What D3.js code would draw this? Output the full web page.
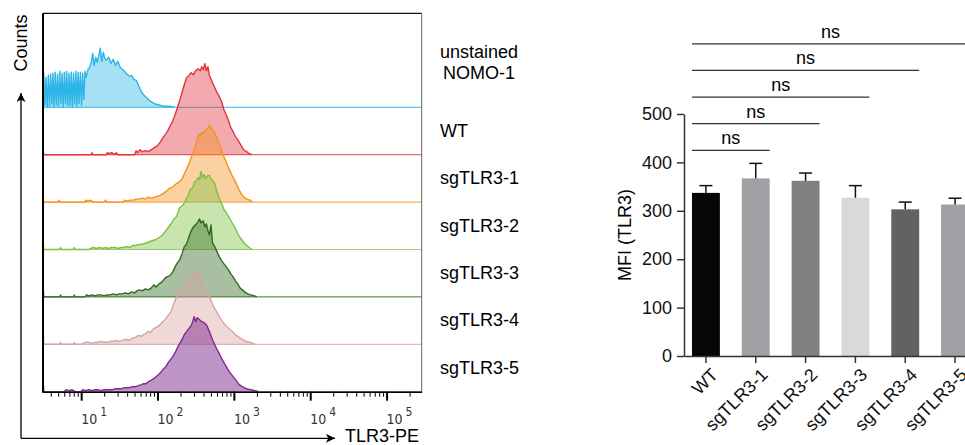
<!DOCTYPE html>
<html>
<head>
<meta charset="utf-8">
<script src="https://cdnjs.cloudflare.com/ajax/libs/d3/7.8.5/d3.min.js"></script>
<style>
  body { margin: 0; background: #fff; }
  svg { display: block; font-family: "Liberation Sans", Arial, sans-serif; }
</style>
</head>
<body>
<div id="chart"></div>
<script>
// histogram rows, top to bottom
var rowNames = ['unstained NOMO-1', 'WT', 'sgTLR3-1', 'sgTLR3-2', 'sgTLR3-3', 'sgTLR3-4', 'sgTLR3-5'];
var rowLines = [['unstained', 'NOMO-1'], ['WT'], ['sgTLR3-1'], ['sgTLR3-2'], ['sgTLR3-3'], ['sgTLR3-4'], ['sgTLR3-5']];
var rowColours = ['#2cb5e6', '#e3343d', '#f6921e', '#7dc142', '#2f6a1e', '#d6a3a3', '#7e2b8e'];

// [log10(TLR3-PE), counts]
var unstainedHist = [[0.50,0],[0.50,100],[0.505,0],[0.51,34],[0.525,2],[0.54,30],[0.555,0],[0.57,32],[0.585,1],[0.60,33],[0.615,3],[0.63,34],[0.645,0],[0.66,35],[0.675,2],[0.69,33],[0.705,1],[0.72,36],[0.735,4],[0.75,34],[0.765,0],[0.78,35],[0.795,3],[0.81,36],[0.825,1],[0.84,34],[0.855,2],[0.87,35],[0.885,0],[0.90,34],[0.915,3],[0.93,36],[0.945,1],[0.96,35],[0.975,4],[0.99,35],[1.005,2],[1.02,34],[1.035,8],[1.05,36],[1.065,30],[1.08,35],[1.09,38],[1.11,40],[1.13,44],[1.15,54],[1.17,42],[1.19,50],[1.21,45],[1.23,52],[1.25,59],[1.27,46],[1.29,55],[1.31,49],[1.33,47],[1.36,50],[1.39,44],[1.42,48],[1.45,42],[1.48,46],[1.51,40],[1.54,38],[1.57,36],[1.60,33],[1.63,31],[1.66,32],[1.69,28],[1.72,27],[1.75,22],[1.78,17],[1.81,13],[1.85,10],[1.89,7],[1.93,5],[1.98,3],[2.03,2],[2.08,1],[2.15,1],[2.22,0]];
var wtHist = [[0.50,0],[0.50,6],[0.51,0],[1.13,0],[1.14,2],[1.15,0],[1.33,0],[1.34,2],[1.36,1],[1.40,2],[1.44,0],[1.46,2],[1.48,0],[1.70,0],[1.72,4],[1.74,2],[1.77,5],[1.80,3],[1.84,4],[1.88,3],[1.92,5],[1.96,7],[2.00,9],[2.04,13],[2.08,18],[2.12,22],[2.16,28],[2.20,34],[2.23,40],[2.26,47],[2.29,54],[2.32,62],[2.35,70],[2.38,77],[2.41,79],[2.44,82],[2.47,80],[2.50,84],[2.53,86],[2.56,84],[2.58,88],[2.60,85],[2.62,91],[2.64,84],[2.66,88],[2.68,79],[2.70,76],[2.72,72],[2.75,67],[2.78,62],[2.81,58],[2.84,53],[2.87,45],[2.90,40],[2.93,34],[2.96,27],[2.99,23],[3.02,18],[3.05,15],[3.08,11],[3.11,7],[3.14,4],[3.17,3],[3.20,1],[3.24,0]];
var sg1Hist = [[0.50,0],[0.50,8],[0.51,0],[0.70,0],[0.71,2],[0.72,0],[1.05,0],[1.06,2],[1.08,1],[1.12,2],[1.16,0],[1.30,0],[1.32,2],[1.34,0],[1.55,0],[1.57,2],[1.60,1],[1.64,2],[1.68,2],[1.72,3],[1.76,3],[1.80,4],[1.84,3],[1.88,5],[1.92,4],[1.96,5],[2.00,6],[2.04,7],[2.08,9],[2.12,11],[2.16,14],[2.20,15],[2.24,18],[2.28,20],[2.32,23],[2.35,28],[2.38,33],[2.41,38],[2.44,44],[2.47,50],[2.50,57],[2.52,62],[2.54,68],[2.56,66],[2.58,70],[2.61,69],[2.64,73],[2.66,74],[2.68,77],[2.70,75],[2.72,72],[2.75,69],[2.77,66],[2.80,60],[2.83,54],[2.86,47],[2.89,42],[2.92,36],[2.95,31],[2.98,26],[3.01,22],[3.04,17],[3.07,12],[3.10,8],[3.13,5],[3.17,3],[3.21,2],[3.24,0]];
var sg2Hist = [[0.50,0],[0.50,10],[0.51,0],[0.72,0],[0.73,2],[0.74,0],[0.90,0],[0.91,2],[0.92,0],[1.10,0],[1.12,1],[1.16,2],[1.20,1],[1.24,2],[1.28,1],[1.32,2],[1.36,1],[1.40,2],[1.44,2],[1.48,1],[1.52,2],[1.56,2],[1.60,3],[1.64,2],[1.67,4],[1.71,4],[1.75,5],[1.79,5],[1.83,6],[1.87,7],[1.90,8],[1.94,9],[1.98,10],[2.02,12],[2.06,14],[2.10,18],[2.14,22],[2.18,26],[2.21,30],[2.25,33],[2.29,42],[2.33,44],[2.36,48],[2.40,54],[2.43,60],[2.46,62],[2.49,68],[2.51,69],[2.53,72],[2.55,70],[2.57,78],[2.59,72],[2.61,75],[2.63,71],[2.66,74],[2.68,74],[2.71,70],[2.73,68],[2.75,66],[2.78,57],[2.81,51],[2.84,46],[2.87,40],[2.90,37],[2.93,33],[2.96,29],[2.99,25],[3.02,21],[3.05,16],[3.08,12],[3.11,9],[3.14,6],[3.17,4],[3.20,2],[3.24,0]];
var sg3Hist = [[0.50,0],[0.50,10],[0.51,0],[0.72,0],[0.73,2],[0.74,0],[0.90,0],[0.91,2],[0.92,0],[1.05,0],[1.07,2],[1.10,1],[1.14,2],[1.18,1],[1.22,2],[1.26,2],[1.30,1],[1.34,2],[1.38,2],[1.42,3],[1.46,2],[1.50,3],[1.54,3],[1.58,4],[1.62,3],[1.66,5],[1.70,4],[1.73,6],[1.76,7],[1.80,6],[1.84,8],[1.88,7],[1.92,9],[1.95,12],[1.98,10],[2.02,13],[2.06,15],[2.09,18],[2.12,20],[2.16,21],[2.20,25],[2.23,30],[2.26,34],[2.29,37],[2.32,43],[2.35,50],[2.38,53],[2.41,60],[2.44,66],[2.47,70],[2.50,72],[2.53,75],[2.55,78],[2.57,74],[2.60,76],[2.62,70],[2.64,73],[2.66,66],[2.68,62],[2.70,72],[2.72,54],[2.75,50],[2.78,45],[2.81,40],[2.84,36],[2.87,33],[2.90,30],[2.93,27],[2.96,23],[2.99,20],[3.02,16],[3.05,13],[3.08,9],[3.11,7],[3.14,5],[3.18,3],[3.22,2],[3.27,1],[3.30,0]];
var sg4Hist = [[0.50,0],[0.50,17],[0.51,0],[0.72,0],[0.73,2],[0.74,0],[0.90,0],[0.91,2],[0.92,0],[1.00,0],[1.02,1],[1.06,2],[1.10,2],[1.14,1],[1.18,2],[1.22,2],[1.26,3],[1.30,2],[1.34,2],[1.38,3],[1.42,3],[1.46,4],[1.50,3],[1.54,4],[1.58,5],[1.63,4],[1.67,6],[1.71,7],[1.75,9],[1.79,8],[1.82,10],[1.85,11],[1.88,13],[1.91,12],[1.94,15],[1.98,17],[2.01,18],[2.05,21],[2.09,24],[2.12,27],[2.15,30],[2.18,33],[2.21,40],[2.24,46],[2.27,50],[2.30,53],[2.33,56],[2.36,58],[2.39,62],[2.42,66],[2.45,68],[2.48,72],[2.50,70],[2.52,74],[2.54,70],[2.56,68],[2.59,65],[2.62,58],[2.65,52],[2.68,48],[2.71,42],[2.74,37],[2.77,33],[2.80,29],[2.83,25],[2.86,22],[2.89,19],[2.93,16],[2.96,14],[2.99,12],[3.03,9],[3.07,7],[3.11,5],[3.15,3],[3.20,2],[3.25,1],[3.28,0]];
var sg5Hist = [[0.50,0],[0.50,14],[0.51,0],[0.78,0],[0.80,2],[0.84,1],[0.88,2],[0.92,0],[1.00,0],[1.02,2],[1.06,1],[1.10,2],[1.14,1],[1.18,2],[1.22,2],[1.26,1],[1.30,2],[1.34,2],[1.38,2],[1.41,2],[1.45,3],[1.49,3],[1.53,3],[1.57,4],[1.60,4],[1.63,4],[1.67,5],[1.71,5],[1.75,6],[1.79,7],[1.82,8],[1.85,8],[1.88,10],[1.91,11],[1.95,13],[1.98,15],[2.01,17],[2.05,20],[2.08,23],[2.11,25],[2.14,29],[2.17,32],[2.20,35],[2.23,39],[2.26,44],[2.29,48],[2.32,52],[2.35,57],[2.38,60],[2.41,63],[2.44,66],[2.46,70],[2.48,75],[2.50,70],[2.52,74],[2.55,72],[2.58,70],[2.61,69],[2.64,67],[2.67,62],[2.70,56],[2.72,52],[2.75,47],[2.78,42],[2.81,38],[2.84,33],[2.87,29],[2.90,25],[2.93,21],[2.96,18],[2.99,15],[3.03,11],[3.07,7],[3.11,5],[3.16,3],[3.22,2],[3.28,1],[3.32,0]];
var histograms = [unstainedHist, wtHist, sg1Hist, sg2Hist, sg3Hist, sg4Hist, sg5Hist];
var decades = [1, 2, 3, 4, 5];

// MFI bar chart
var barCats = ['WT', 'sgTLR3-1', 'sgTLR3-2', 'sgTLR3-3', 'sgTLR3-4', 'sgTLR3-5'];
var barMeans = [337, 367, 362, 327, 303, 313];
var barSems = [15, 31, 16, 25, 15, 13];
var barColours = ['#060606', '#a1a1a5', '#818181', '#d8d9d9', '#616361', '#a1a1a5'];
var mfiTicks = [0, 100, 200, 300, 400, 500];
var sigLabels = ['ns', 'ns', 'ns', 'ns', 'ns'];

var width = 965, height = 445;

var svg = d3.select('#chart')
  .append('svg')
  .attr('width', width)
  .attr('height', height);

/* ---------- histogram overlay ---------- */
var frame = {left: 43, right: 421.7, top: 13.3, bottom: 391.7};

var x = d3.scaleLog()
  .domain([Math.pow(10, 0.5), Math.pow(10, 5.46)])
  .range([frame.left, frame.right]);

var rowBase = d3.scalePoint()
  .domain(rowNames)
  .range([107.3, frame.bottom]);

var counts = d3.scaleLinear().domain([0, 100]).range([0, 100]);

svg.append('clipPath').attr('id', 'frameClip')
  .append('rect')
  .attr('x', frame.left).attr('y', frame.top)
  .attr('width', frame.right - frame.left)
  .attr('height', frame.bottom - frame.top);

var hist = svg.append('g').attr('clip-path', 'url(#frameClip)');

histograms.forEach(function(data, i){
  var base = rowBase(rowNames[i]);
  var col = rowColours[i];
  var px = function(d){ return x(Math.pow(10, d[0])); };

  hist.append('line')
    .attr('x1', frame.left).attr('x2', frame.right)
    .attr('y1', base).attr('y2', base)
    .style('stroke', col).style('stroke-width', 1.2).style('opacity', 0.75);

  hist.append('path')
    .datum(data)
    .attr('d', d3.area().x(px).y0(base).y1(function(d){ return base - counts(d[1]); }))
    .style('fill', col)
    .style('fill-opacity', i == 6 ? 0.5 : 0.42);

  hist.append('path')
    .datum(data)
    .attr('d', d3.line().x(px).y(function(d){ return base - counts(d[1]); }))
    .style('fill', 'none')
    .style('stroke', col)
    .style('stroke-width', 1.4)
    .style('stroke-linejoin', 'round');
});

// frame
svg.append('line').attr('x1', frame.left).attr('x2', frame.right).attr('y1', frame.top).attr('y2', frame.top)
  .style('stroke', '#111').style('stroke-width', 1.2);
svg.append('line').attr('x1', frame.right).attr('x2', frame.right).attr('y1', frame.top).attr('y2', frame.bottom)
  .style('stroke', '#666').style('stroke-width', 1);
svg.append('line').attr('x1', frame.left).attr('x2', frame.left).attr('y1', frame.top).attr('y2', frame.bottom + 1)
  .style('stroke', '#000').style('stroke-width', 2);

var xAxis = svg.append('g')
  .attr('transform', 'translate(0,' + frame.bottom + ')')
  .call(d3.axisBottom(x).tickValues(x.ticks()).tickFormat('').tickSizeOuter(0));
xAxis.select('.domain').style('stroke', '#000').style('stroke-width', 1.5);
xAxis.selectAll('.tick line')
  .attr('y2', function(d){ return Number.isInteger(Math.log10(d)) ? 9 : 5; })
  .style('stroke-width', function(d){ return Number.isInteger(Math.log10(d)) ? 2 : 1; })
  .style('stroke', '#000');

var decadeLabels = svg.append('g')
  .style('font-family', '"DejaVu Sans Condensed", "DejaVu Sans", sans-serif')
  .style('fill', '#333')
  .selectAll('text').data(decades)
  .enter().append('text')
  .attr('x', function(d){ return x(Math.pow(10, d)); })
  .attr('y', 423.5);
decadeLabels.append('tspan').style('font-size', '14px').text('10');
decadeLabels.append('tspan').attr('dx', 3).attr('dy', -8).style('font-size', '12px').text(function(d){ return d; });

// outer arrows
svg.append('defs').append('marker')
  .attr('id', 'arrow').attr('viewBox', '0 0 10 10')
  .attr('refX', 10).attr('refY', 5)
  .attr('markerWidth', 12).attr('markerHeight', 9)
  .attr('markerUnits', 'userSpaceOnUse')
  .attr('orient', 'auto')
  .append('path').attr('d', 'M0,0L10,5L0,10L2.5,5Z').style('fill', '#000');

svg.append('path')
  .attr('d', 'M21,438.3V93')
  .style('stroke', '#000').style('stroke-width', 1.3).attr('marker-end', 'url(#arrow)');
svg.append('path')
  .attr('d', 'M21,438.3H335')
  .style('stroke', '#000').style('stroke-width', 1.3).attr('marker-end', 'url(#arrow)');

svg.append('text')
  .attr('transform', 'translate(27,43) rotate(-90)')
  .attr('text-anchor', 'middle')
  .style('font-size', '18px')
  .text('Counts');
svg.append('text')
  .attr('x', 345).attr('y', 442)
  .style('font-size', '18px')
  .text('TLR3-PE');

// row labels
rowLines.forEach(function(lines, i){
  var base = rowBase(rowNames[i]);
  var t = svg.append('text')
    .attr('y', lines.length > 1 ? base - 49.5 : base - 18)
    .style('font-size', '18px');
  lines.forEach(function(s, j){
    t.append('tspan')
      .attr('x', j == 0 ? 440 : 443)
      .attr('dy', j == 0 ? 0 : 21.5)
      .text(s);
  });
});

/* ---------- MFI bar chart ---------- */
var bx = d3.scaleBand()
  .domain(barCats)
  .range([684, 977])
  .paddingInner(0.44)
  .paddingOuter(0.16);

var by = d3.scaleLinear()
  .domain([0, 500])
  .range([356, 114]);

var bars = svg.append('g');

bars.selectAll('.bar').data(barCats)
  .enter().append('rect')
  .attr('class', 'bar')
  .attr('x', function(d){ return bx(d); })
  .attr('width', bx.bandwidth())
  .attr('y', function(d, i){ return by(barMeans[i]); })
  .attr('height', function(d, i){ return by(0) - by(barMeans[i]); })
  .style('fill', function(d, i){ return barColours[i]; });

// upper error bars only
barCats.forEach(function(c, i){
  var cx = bx(c) + bx.bandwidth() / 2;
  var g = bars.append('g').style('stroke', '#111').style('stroke-width', 1.5);
  g.append('line').attr('x1', cx).attr('x2', cx)
    .attr('y1', by(barMeans[i])).attr('y2', by(barMeans[i] + barSems[i]));
  g.append('line').attr('x1', cx - 6.5).attr('x2', cx + 6.5)
    .attr('y1', by(barMeans[i] + barSems[i])).attr('y2', by(barMeans[i] + barSems[i]));
});

var yAxis = svg.append('g')
  .attr('transform', 'translate(684,0)')
  .call(d3.axisLeft(by).tickValues(mfiTicks).tickSize(7).tickSizeOuter(0).tickPadding(5));
yAxis.selectAll('text').style('font-size', '18px').style('font-family', '"Liberation Sans", Arial, sans-serif').style('fill', '#111');

var xBarAxis = svg.append('g')
  .attr('transform', 'translate(0,356)')
  .call(d3.axisBottom(bx).tickSize(7).tickSizeOuter(0));
xBarAxis.selectAll('text')
  .style('font-size', '18px').style('font-family', '"Liberation Sans", Arial, sans-serif').style('fill', '#111')
  .attr('text-anchor', 'end')
  .attr('y', 0).attr('dx', 0).attr('dy', 0)
  .attr('transform', 'translate(13,20) rotate(-45)');

[yAxis, xBarAxis].forEach(function(a){
  a.selectAll('.domain, .tick line').style('stroke', '#333').style('stroke-width', 1.5);
});

svg.append('text')
  .attr('transform', 'translate(631,235) rotate(-90)')
  .attr('text-anchor', 'middle')
  .style('font-size', '18px')
  .text('MFI (TLR3)');

// significance brackets, each vs WT
sigLabels.forEach(function(lab, i){
  var level = by(425 + i * 55);
  var x1 = bx(barCats[0]);
  var x2 = bx(barCats[i + 1]) + bx.bandwidth();
  svg.append('line')
    .attr('x1', x1).attr('x2', x2)
    .attr('y1', level).attr('y2', level)
    .style('stroke', '#333').style('stroke-width', 1.2);
  svg.append('text')
    .attr('x', (x1 + x2) / 2).attr('y', level - 6)
    .attr('text-anchor', 'middle')
    .style('font-size', '18px')
    .text(lab);
});
</script>
</body>
</html>
